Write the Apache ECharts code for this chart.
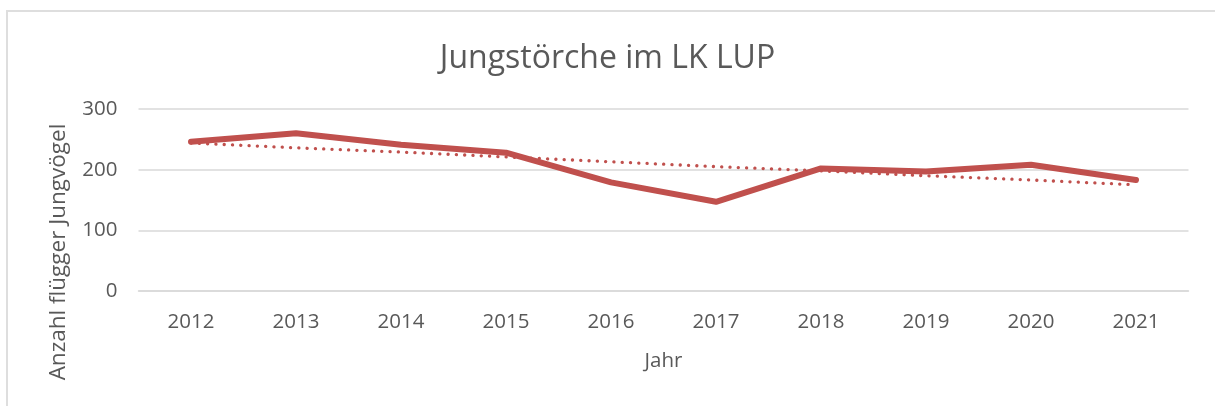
<!DOCTYPE html>
<html>
<head>
<meta charset="utf-8">
<script src="https://cdn.jsdelivr.net/npm/echarts@6/dist/echarts.min.js"></script>
<style>
  html, body { margin: 0; padding: 0; background: #fff; }
  #frame { position: absolute; left: 6px; top: 10px; width: 1230px; height: 420px; border: 2px solid #dedede; }
  #chart { position: absolute; left: 0; top: 0; width: 1215px; height: 406px; }
</style>
</head>
<body>
<div id="frame"></div>
<div id="chart"></div>
<script>
// Jahre und Werte
var years = ['2012', '2013', '2014', '2015', '2016', '2017', '2018', '2019', '2020', '2021'];
var jungvoegel = [246, 260, 241, 228, 179, 147, 202, 197, 208, 183];
// lineare Trendlinie
var trend = [244, 236, 229, 221, 213, 205, 198, 190, 183, 175];

var chartDom = document.getElementById('chart');
var myChart = echarts.init(chartDom);
var textColor = '#595959';
var fontFam = '"Open Sans", "Noto Sans", sans-serif';

var option = {
  animation: false,
  title: {
    text: 'Jungstörche im LK LUP',
    left: 'center',
    top: 38,
    textStyle: { color: textColor, fontSize: 32, fontWeight: 'normal', fontFamily: fontFam }
  },
  grid: { left: 138.5, right: 26.5, top: 109, bottom: 115 },
  xAxis: {
    type: 'category',
    data: years,
    name: 'Jahr',
    nameLocation: 'middle',
    nameGap: 60,
    nameTextStyle: { color: textColor, fontSize: 20.5, fontFamily: fontFam },
    axisLine: { show: true, lineStyle: { color: '#d9d9d9', width: 1.5 } },
    axisTick: { show: false },
    axisLabel: { color: textColor, fontSize: 20.5, fontFamily: fontFam, margin: 21 }
  },
  yAxis: {
    type: 'value',
    min: 0,
    max: 300,
    interval: 100,
    axisLine: { show: false },
    axisTick: { show: false },
    axisLabel: { color: textColor, fontSize: 20.5, fontFamily: fontFam, margin: 21 },
    splitLine: { lineStyle: { color: '#d9d9d9', width: 1.5 } }
  },
  graphic: [{
    type: 'text',
    x: 59,
    y: 252,
    rotation: Math.PI / 2,
    style: {
      text: 'Anzahl flügger Jungvögel',
      fill: textColor,
      fontSize: 22.5,
      fontFamily: fontFam,
      align: 'center',
      verticalAlign: 'middle'
    }
  }],
  series: [
    {
      type: 'line',
      data: jungvoegel,
      symbol: 'none',
      lineStyle: { color: '#C0504D', width: 6, cap: 'round', join: 'round' },
      z: 3
    },
    {
      type: 'line',
      data: trend,
      symbol: 'none',
      lineStyle: { color: '#C0504D', width: 3.3, type: [0.1, 8.2], cap: 'round' },
      z: 2
    }
  ]
};
myChart.setOption(option);
</script>
</body>
</html>
